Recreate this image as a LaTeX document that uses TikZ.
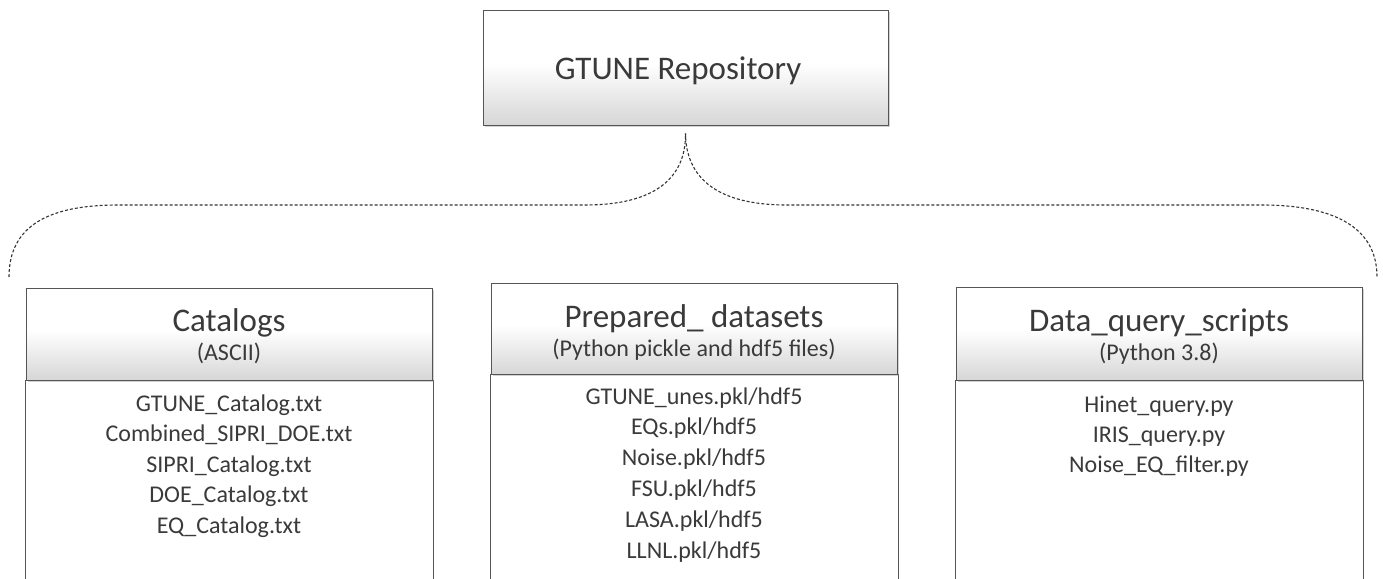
\documentclass[tikz,border=0pt]{standalone}
\usepackage{fontspec}
\setmainfont{Carlito}
\usetikzlibrary{shadows}

\definecolor{edge}{HTML}{555555}
\definecolor{ink}{HTML}{3A3A3A}
\pgfdeclareverticalshading{hdrfade}{100bp}{color(0bp)=(gray!32); color(25bp)=(gray!32); color(52bp)=(white); color(100bp)=(white)}

\tikzset{
  hdr/.style={draw=edge, line width=1pt, shading=hdrfade, inner sep=0pt,
    minimum width=406pt, drop shadow={shadow xshift=1.5pt, shadow yshift=-1.5pt, opacity=.35}},
  body/.style={draw=edge, line width=1pt, fill=white},
  ttl/.style={anchor=base, text=ink, font=\fontsize{33}{38}\selectfont},
  sub/.style={anchor=base, text=ink, font=\fontsize{24}{28}\selectfont},
  item/.style={anchor=base, text=ink, font=\fontsize{24}{28}\selectfont, inner sep=0pt},
  brace/.style={draw=black!80, line width=1.1pt, dash pattern=on 3pt off 2pt}
}

\begin{document}
\begin{tikzpicture}[x=1pt, y=-1pt]
\path[use as bounding box, clip] (0,0) rectangle (1383,578);

% bodies first, headers on top
\draw[body] (25,380) rectangle (433,600);
\draw[body] (490,374) rectangle (898,600);
\draw[body] (955,380) rectangle (1363,600);

\node[hdr, minimum width=405pt, minimum height=114pt] (repo) at (685.5,68) {};
\node[ttl] (repot) at (678,79) {GTUNE Repository};

\node[hdr, minimum height=92pt] (catH) at (229,334) {};
\node[ttl] (catT) at (229,331) {Catalogs};
\node[sub] (catS) at (229,360) {(ASCII)};

\node[hdr, minimum height=91pt] (prepH) at (694,328.5) {};
\node[ttl] (prepT) at (694,327) {Prepared\_ datasets};
\node[sub] (prepS) at (694,356) {(Python pickle and hdf5 files)};

\node[hdr, minimum height=93pt] (qryH) at (1159,333.5) {};
\node[ttl] (qryT) at (1159,331) {Data\_query\_scripts};
\node[sub] (qryS) at (1159,360) {(Python 3.8)};

% file lists
\foreach \t [count=\i] in {GTUNE\_Catalog.txt, Combined\_SIPRI\_DOE.txt,
    SIPRI\_Catalog.txt, DOE\_Catalog.txt, EQ\_Catalog.txt}
  \node[item] (cat\i) at (229,{411+30.5*(\i-1)}) {\t};
\foreach \t [count=\i] in {GTUNE\_unes.pkl/hdf5, EQs.pkl/hdf5, Noise.pkl/hdf5,
    FSU.pkl/hdf5, LASA.pkl/hdf5, LLNL.pkl/hdf5}
  \node[item] (prep\i) at (694,{404+30.8*(\i-1)}) {\t};
\foreach \t [count=\i] in {Hinet\_query.py, IRIS\_query.py, Noise\_EQ\_filter.py}
  \node[item] (qry\i) at (1159,{412+30*(\i-1)}) {\t};

% the dashed brace
\coordinate (tip) at ([yshift=-8pt]repo.south);
\coordinate (lend) at (9,277);
\coordinate (rend) at (1377,277);
\draw[brace] (lend) .. controls (9,225) and (50,205) .. (118,205) -- (585,205)
  .. controls (655,205) and (686,178) .. (tip);
\draw[brace] (tip) .. controls (686,178) and (717,205) .. (787,205) -- (1262,205)
  .. controls (1330,205) and (1377,225) .. (rend);
\end{tikzpicture}
\end{document}
